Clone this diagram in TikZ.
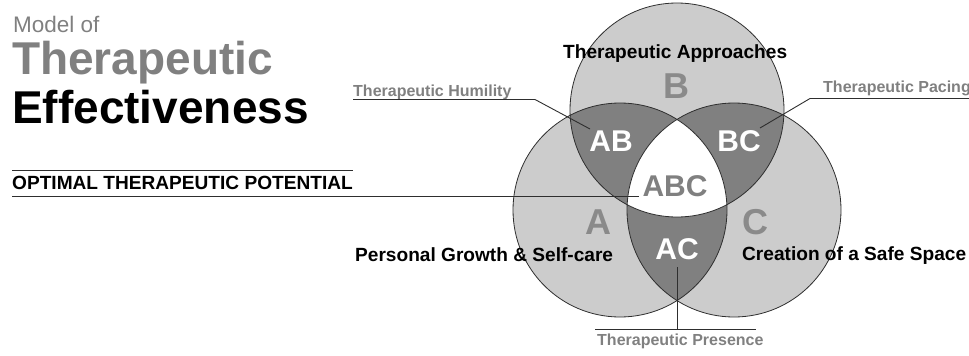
\documentclass[tikz,border=0pt]{standalone}
\usepackage{fontspec}
\setmainfont{Liberation Sans}
\usetikzlibrary{positioning}

\definecolor{lightfill}{gray}{0.80}
\definecolor{darkfill}{gray}{0.50}
\definecolor{lettergray}{gray}{0.54}
\definecolor{labelgray}{gray}{0.50}
\definecolor{titlegray}{gray}{0.50}
\definecolor{linegray}{gray}{0.18}

\begin{document}
\begin{tikzpicture}[
  x=1pt, y=-1pt,
  heading/.style={anchor=base west, inner sep=0pt},
  tag/.style={anchor=base west, inner sep=0pt, text=labelgray, font=\bfseries\fontsize{16}{19}\selectfont},
  region/.style={anchor=base west, inner sep=0pt, font=\bfseries\fontsize{19.1}{23}\selectfont},
  setletter/.style={inner sep=0pt, text=lettergray, font=\bfseries\fontsize{36}{40}\selectfont},
  overlap/.style={inner sep=0pt, text=white, font=\bfseries\fontsize{30}{34}\selectfont},
  outline/.style={draw=linegray, line width=0.8pt},
  leader/.style={draw=linegray, line width=0.9pt}
]
\useasboundingbox (0,0) rectangle (969,356);

% Title
\node[heading, text=titlegray, font=\fontsize{22.5}{26}\selectfont] (model) at (13,32) {Model of};
\node[heading, text=titlegray, font=\bfseries\fontsize{46}{50}\selectfont] (thera) at (12,74) {Therapeutic};
\node[heading, font=\bfseries\fontsize{46}{50}\selectfont] (effect) at (12,123) {Effectiveness};

% Circle centres
\coordinate (ca) at (620,210);
\coordinate (cb) at (677,110);
\coordinate (cc) at (734,210);

% Fills
\fill[lightfill] (ca) circle[radius=107];
\fill[lightfill] (cb) circle[radius=107];
\fill[lightfill] (cc) circle[radius=107];
\begin{scope}
  \clip (ca) circle[radius=107];
  \fill[darkfill] (cb) circle[radius=107];
  \fill[darkfill] (cc) circle[radius=107];
\end{scope}
\begin{scope}
  \clip (cb) circle[radius=107];
  \fill[darkfill] (cc) circle[radius=107];
\end{scope}
\begin{scope}
  \clip (ca) circle[radius=107];
  \clip (cb) circle[radius=107];
  \fill[white] (cc) circle[radius=107];
\end{scope}

% Outlines
\draw[outline] (ca) circle[radius=107];
\draw[outline] (cb) circle[radius=107];
\draw[outline] (cc) circle[radius=107];

% Set letters
\node[setletter] (a) at (598,222) {A};
\node[setletter] (b) at (676,86) {B};
\node[setletter] (c) at (755,222) {C};

% Overlaps
\node[overlap] (ab) at (611,141) {AB};
\node[overlap] (bc) at (739,141) {BC};
\node[overlap] (ac) at (677,249) {AC};
\node[overlap, text=darkfill] (abc) at (675,186) {ABC};

% Region labels
\node[region] (approach) at (563,58) {Therapeutic Approaches};
\node[region] (growth) at (355,261) {Personal Growth \& Self-care};
\node[region] (safe) at (742,260) {Creation of a Safe Space};

% Overlap labels
\node[tag] (humility) at (353,96) {Therapeutic Humility};
\node[tag] (pacing) at (823,92) {Therapeutic Pacing};
\node[tag] (presence) at (597,345) {Therapeutic Presence};
\node[region] (optimal) at (12,189) {OPTIMAL THERAPEUTIC POTENTIAL};

% Leader points
\coordinate (humL) at (353,99.5);
\coordinate (humK) at (535,99.5);
\coordinate (humE) at (590,129);
\coordinate (pacR) at (969,98.5);
\coordinate (pacK) at (810,98.5);
\coordinate (pacE) at (760,128);
\coordinate (preL) at (595,329);
\coordinate (preR) at (756,329);
\coordinate (preK) at (677,329);
\coordinate (preE) at (677,267);
\coordinate (optT1) at (12,170);
\coordinate (optT2) at (353,170);
\coordinate (optL) at (12,196);
\coordinate (optE) at (639,196);

% Leaders
\draw[leader] (humL) -- (humK) -- (humE);
\draw[leader] (pacR) -- (pacK) -- (pacE);
\draw[leader] (preL) -- (preR);
\draw[leader] (preK) -- (preE);
\draw[leader] (optT1) -- (optT2);
\draw[leader] (optL) -- (optE);

\end{tikzpicture}
\end{document}
